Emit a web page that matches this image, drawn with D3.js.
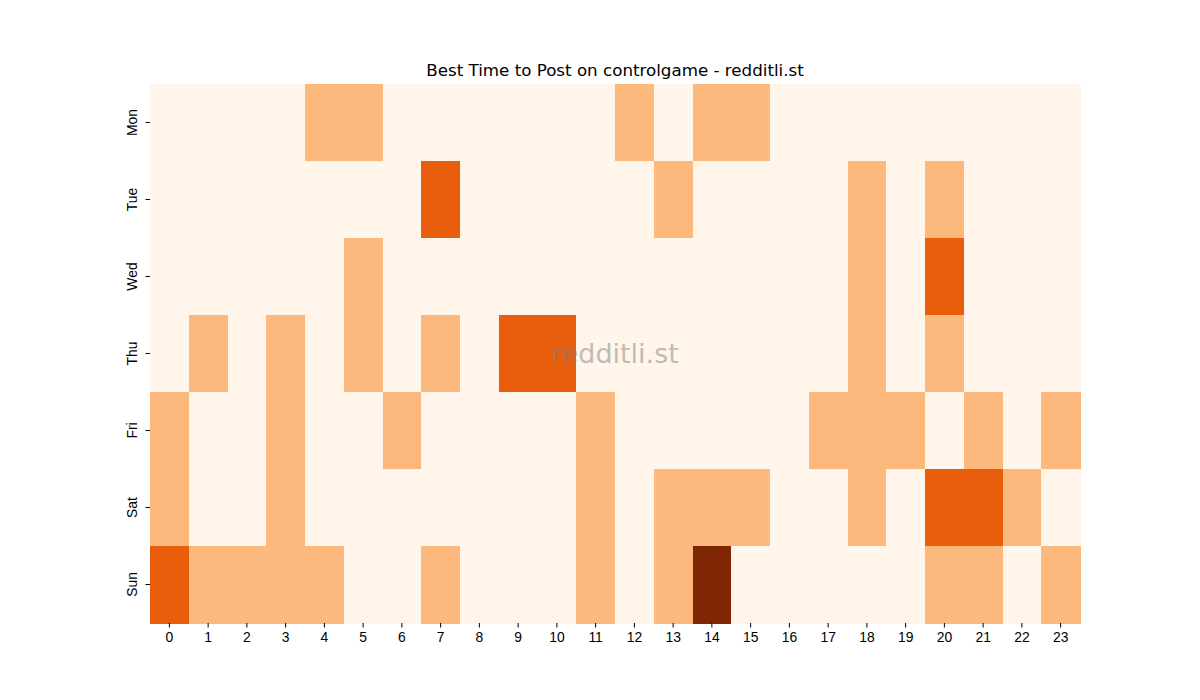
<!DOCTYPE html>
<html>
<head>
<meta charset="utf-8">
<script src="https://cdn.jsdelivr.net/npm/d3@7"></script>
<style>
  body { margin: 0; background: #fff; }
  svg { display: block; font-family: "DejaVu Sans", sans-serif; }
</style>
</head>
<body>
<div id="chart"></div>
<script>
// Data: post-activity level per day (rows) and hour (columns)
const days = ["Mon", "Tue", "Wed", "Thu", "Fri", "Sat", "Sun"];
const hours = d3.range(24);

const mon = [0,0,0,0,1,1,0,0,0,0,0,0,1,0,1,1,0,0,0,0,0,0,0,0];
const tue = [0,0,0,0,0,0,0,2,0,0,0,0,0,1,0,0,0,0,1,0,1,0,0,0];
const wed = [0,0,0,0,0,1,0,0,0,0,0,0,0,0,0,0,0,0,1,0,2,0,0,0];
const thu = [0,1,0,1,0,1,0,1,0,2,2,0,0,0,0,0,0,0,1,0,1,0,0,0];
const fri = [1,0,0,1,0,0,1,0,0,0,0,1,0,0,0,0,0,1,1,1,0,1,0,1];
const sat = [1,0,0,1,0,0,0,0,0,0,0,1,0,1,1,1,0,0,1,0,2,2,1,0];
const sun = [2,1,1,1,1,0,0,1,0,0,0,1,0,1,3,0,0,0,0,0,1,1,0,1];
const values = [mon, tue, wed, thu, fri, sat, sun];

const width = 1200, height = 700;
const margin = {top: 84, right: 120, bottom: 77, left: 150};

const svg = d3.select("#chart").append("svg")
    .attr("width", width)
    .attr("height", height);

const x = d3.scaleBand()
    .domain(hours)
    .range([margin.left, width - margin.right]);

const y = d3.scaleBand()
    .domain(days)
    .range([margin.top, height - margin.bottom]);

// Oranges colormap, 0..3
const color = d3.scaleLinear()
    .domain([0, 1, 2, 3])
    .range(["#fff5eb", "#fdb97d", "#e95e0d", "#7f2704"]);

const cells = [];
values.forEach((row, i) => {
    row.forEach((v, h) => cells.push({day: days[i], hour: h, value: v}));
});

svg.append("g")
    .selectAll("rect")
    .data(cells)
    .join("rect")
    .attr("x", d => x(d.hour))
    .attr("y", d => y(d.day))
    .attr("width", x.bandwidth() + 0.5)
    .attr("height", y.bandwidth() + 0.5)
    .attr("fill", d => color(d.value))
    .attr("shape-rendering", "crispEdges");

// Axes
const xAxis = svg.append("g")
    .attr("transform", `translate(0,${height - margin.bottom})`)
    .call(d3.axisBottom(x).tickSize(4.5).tickPadding(5));
xAxis.select(".domain").remove();
xAxis.selectAll("text").style("font-size", "13.9px").attr("fill", "#000");
xAxis.selectAll("line").attr("stroke", "#000");

const yAxis = svg.append("g")
    .attr("transform", `translate(${margin.left},0)`)
    .call(d3.axisLeft(y).tickSize(4.5).tickPadding(5));
yAxis.select(".domain").remove();
yAxis.selectAll("line").attr("stroke", "#000");
yAxis.selectAll("text")
    .style("font-size", "13.9px")
    .attr("fill", "#000")
    .attr("text-anchor", "middle")
    .attr("dy", null)
    .attr("x", null)
    .attr("transform", "translate(-17,0) rotate(-90)")
    .attr("dominant-baseline", "middle");

// Title
svg.append("text")
    .attr("x", (margin.left + width - margin.right) / 2)
    .attr("y", 76)
    .attr("text-anchor", "middle")
    .style("font-size", "16.7px")
    .attr("fill", "#000")
    .text("Best Time to Post on controlgame - redditli.st");

// Watermark
svg.append("text")
    .attr("x", (margin.left + width - margin.right) / 2)
    .attr("y", 363)
    .attr("text-anchor", "middle")
    .style("font-size", "27px")
    .attr("fill", "#808080")
    .attr("fill-opacity", 0.5)
    .text("redditli.st");
</script>
</body>
</html>
